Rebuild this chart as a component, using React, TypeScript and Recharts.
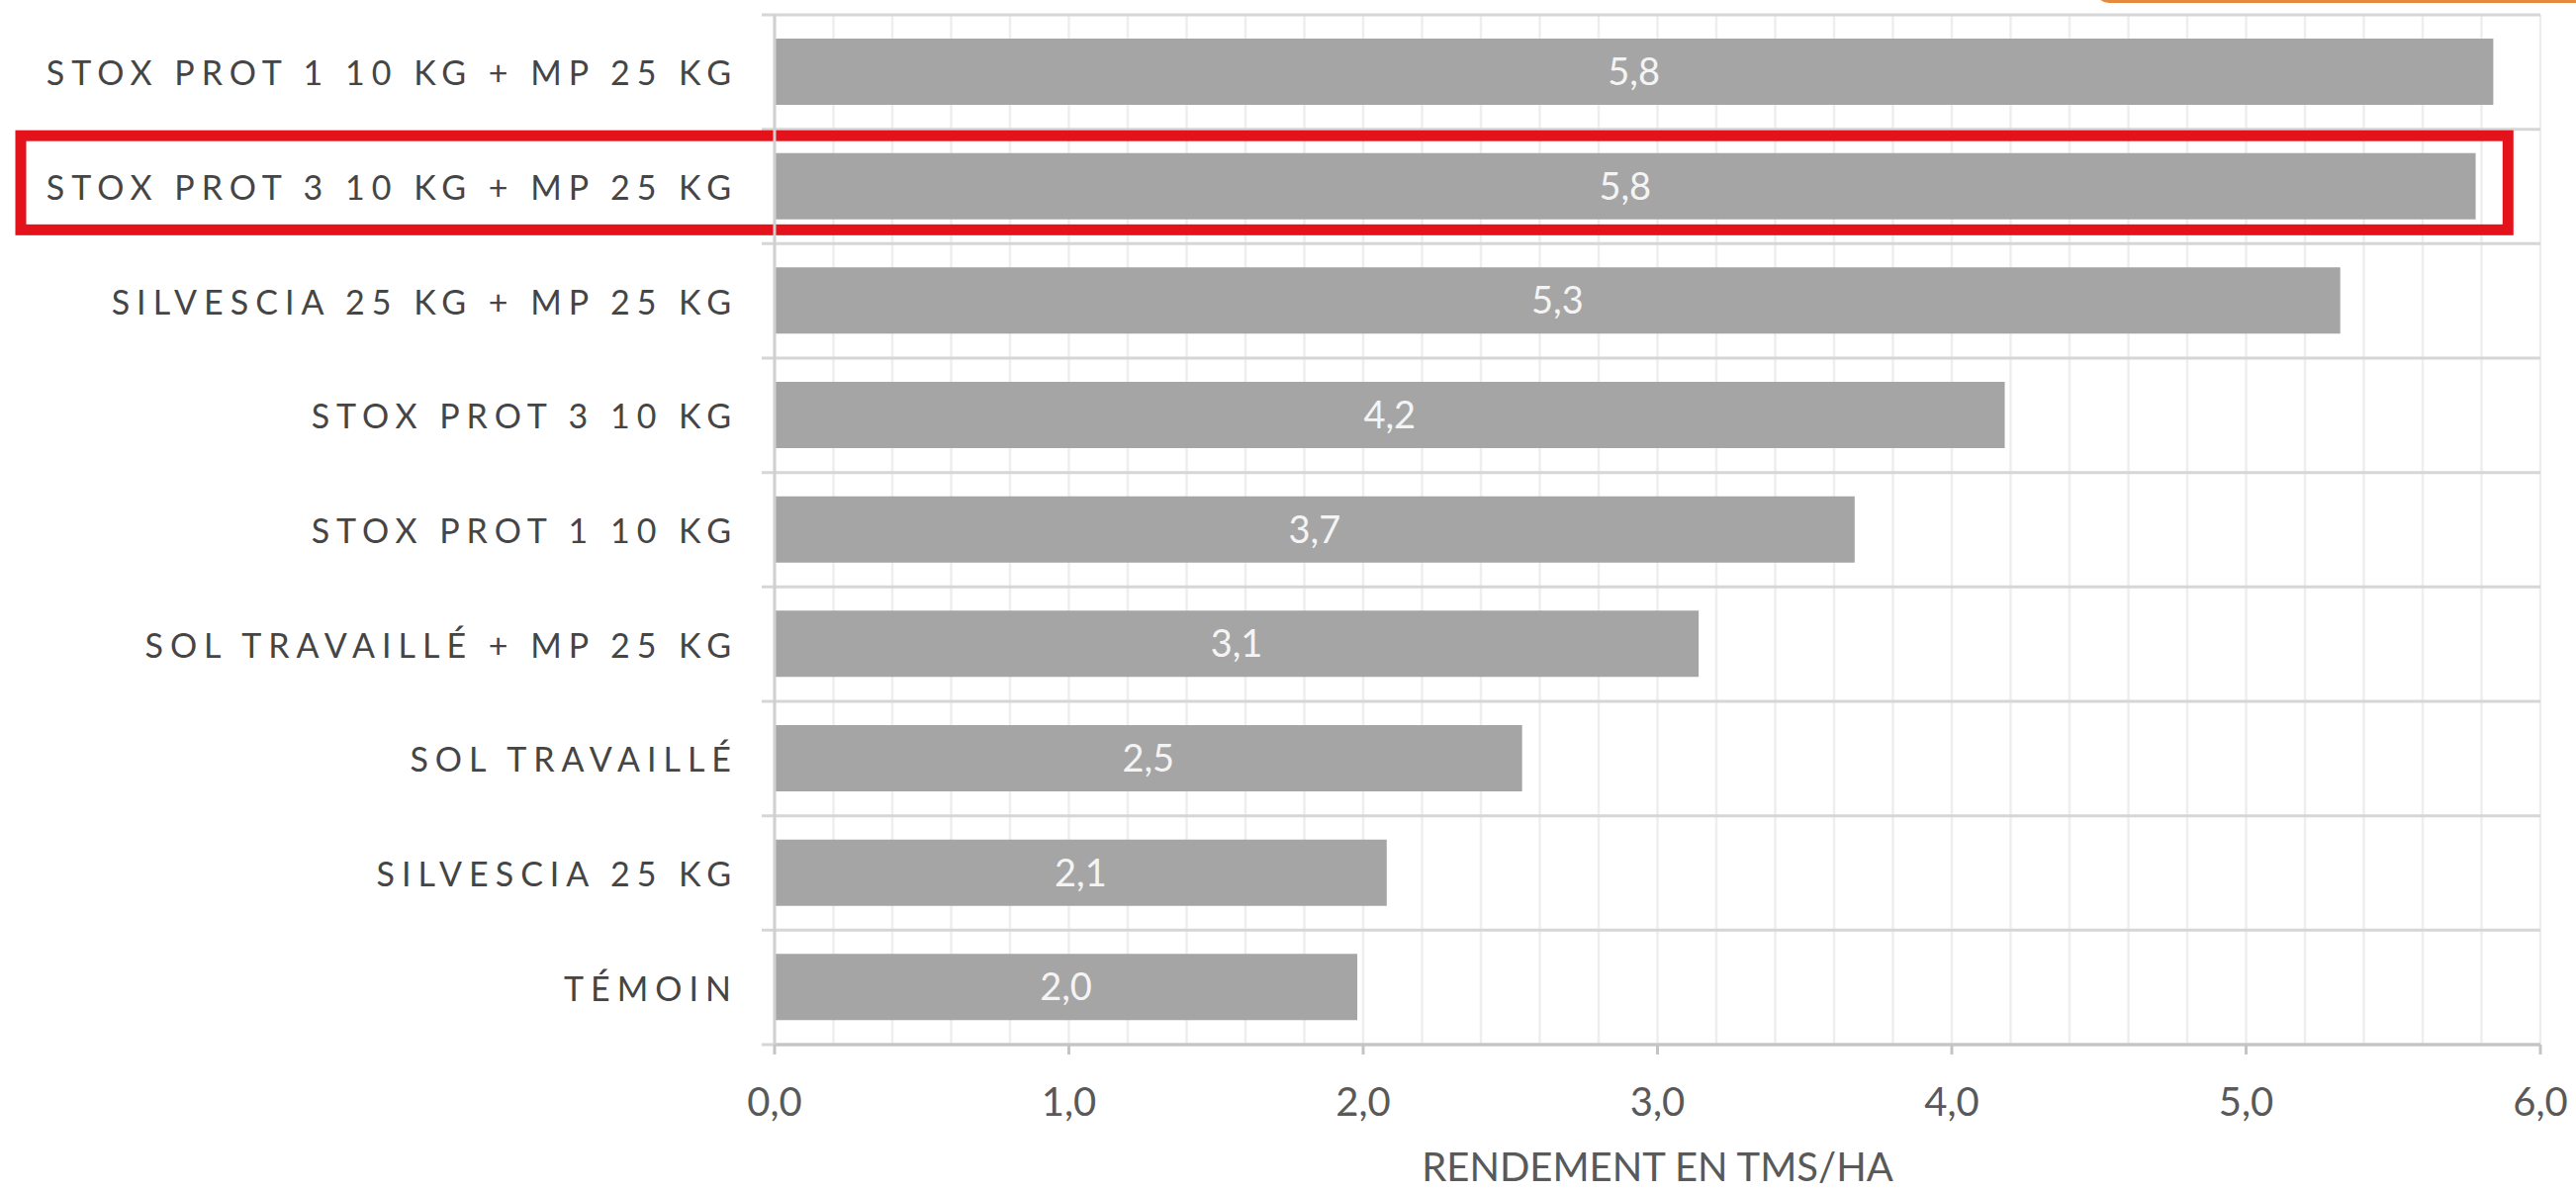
import {
  BarChart,
  Bar,
  XAxis,
  YAxis,
  CartesianGrid,
  LabelList,
  ReferenceArea,
} from "recharts";

const categories = [
  "STOX PROT 1 10 KG + MP 25 KG",
  "STOX PROT 3 10 KG + MP 25 KG",
  "SILVESCIA 25 KG + MP 25 KG",
  "STOX PROT 3 10 KG",
  "STOX PROT 1 10 KG",
  "SOL TRAVAILLÉ + MP 25 KG",
  "SOL TRAVAILLÉ",
  "SILVESCIA 25 KG",
  "TÉMOIN",
];

const yields = [5.84, 5.78, 5.32, 4.18, 3.67, 3.14, 2.54, 2.08, 1.98];

const xTicks = [0, 1, 2, 3, 4, 5, 6];

const highlighted = "STOX PROT 3 10 KG + MP 25 KG";
const highlightEnd = 5.89;

const axisTitle = "RENDEMENT EN TMS/HA";

const data = categories.map((name, i) => ({ name, value: yields[i] }));

const FONT = "Lato, 'Open Sans', sans-serif";
const X_MAX = 6;
const MINOR_STEP = 0.2;

const fmt = (v: number) => Number(v).toFixed(1).replace(".", ",");

function CategoryTick(props: any) {
  const { x, y, payload } = props;
  return (
    <text
      x={x}
      y={y}
      textAnchor="end"
      dominantBaseline="central"
      fill="#454545"
      fontFamily={FONT}
      fontSize={34}
      style={{ letterSpacing: "7px" }}
    >
      {payload.value}
    </text>
  );
}

// red frame around the highlighted row
function HighlightBox(props: any) {
  const { y, height, x, width } = props;
  const left = 21;
  const right = x + width;
  return (
    <rect
      x={left}
      y={y + 6.5}
      width={right - left}
      height={height - 20.5}
      fill="none"
      stroke="#e3121b"
      strokeWidth={11}
    />
  );
}

export default function App() {
  return (
    <div
      style={{
        position: "absolute",
        left: 0,
        top: 0,
        width: 2604,
        height: 1205,
        background: "#fff",
        overflow: "hidden",
      }}
    >
      <div
        style={{
          position: "absolute",
          left: 2118,
          top: -30,
          width: 520,
          height: 33,
          border: "4px solid #e58a3c",
          borderRadius: 14,
          boxSizing: "border-box",
        }}
      />
      <BarChart
        layout="vertical"
        width={2604}
        height={1205}
        data={data}
        margin={{ top: 15, right: 36, bottom: 0, left: 0 }}
        barSize={67}
      >
        <CartesianGrid
          horizontal={false}
          stroke="#eeeeee"
          strokeWidth={2.5}
          verticalCoordinatesGenerator={({ xAxis, offset }: any) => {
            const out: number[] = [];
            for (let i = 0; i <= Math.round(X_MAX / MINOR_STEP); i++) {
              const v = i * MINOR_STEP;
              if (xAxis && typeof xAxis.scale === "function") {
                out.push(xAxis.scale(v));
              } else {
                out.push(offset.left + (v / X_MAX) * offset.width);
              }
            }
            return out;
          }}
        />
        <CartesianGrid
          vertical={false}
          horizontalCoordinatesGenerator={({ offset }: any) =>
            categories
              .concat([""])
              .map((_, i) => offset.top + (i * offset.height) / categories.length)
          }
          horizontal={(p: any) => (
            <line
              key={p.key}
              x1={p.x1 - 13}
              x2={p.x2}
              y1={p.y1}
              y2={p.y2}
              stroke="#d6d6d6"
              strokeWidth={3}
            />
          )}
        />
        <XAxis
          type="number"
          domain={[0, X_MAX]}
          ticks={xTicks}
          tickFormatter={fmt}
          height={149}
          axisLine={{ stroke: "#c4c4c4", strokeWidth: 3 }}
          tickLine={{ stroke: "#c4c4c4", strokeWidth: 3 }}
          tickSize={10}
          tickMargin={34}
          tick={{ fill: "#595959", fontSize: 40, fontFamily: FONT }}
          interval={0}
          label={{
            value: axisTitle,
            position: "insideBottom",
            offset: 11,
            fill: "#595959",
            fontSize: 40,
            fontFamily: FONT,
          }}
        />
        <YAxis
          type="category"
          dataKey="name"
          width={783}
          axisLine={{ stroke: "#d0d0d0", strokeWidth: 3 }}
          tickLine={false}
          tickSize={0}
          tickMargin={37}
          interval={0}
          tick={<CategoryTick />}
        />
        <Bar dataKey="value" fill="#a5a5a5" isAnimationActive={false}>
          <LabelList
            dataKey="value"
            position="center"
            formatter={(v: any) => fmt(v)}
            fill="#f4f4f4"
            fontSize={38}
            fontFamily={FONT}
          />
        </Bar>
        <ReferenceArea
          y1={highlighted}
          y2={highlighted}
          x1={0}
          x2={highlightEnd}
          ifOverflow="visible"
          shape={<HighlightBox />}
        />
      </BarChart>
    </div>
  );
}
